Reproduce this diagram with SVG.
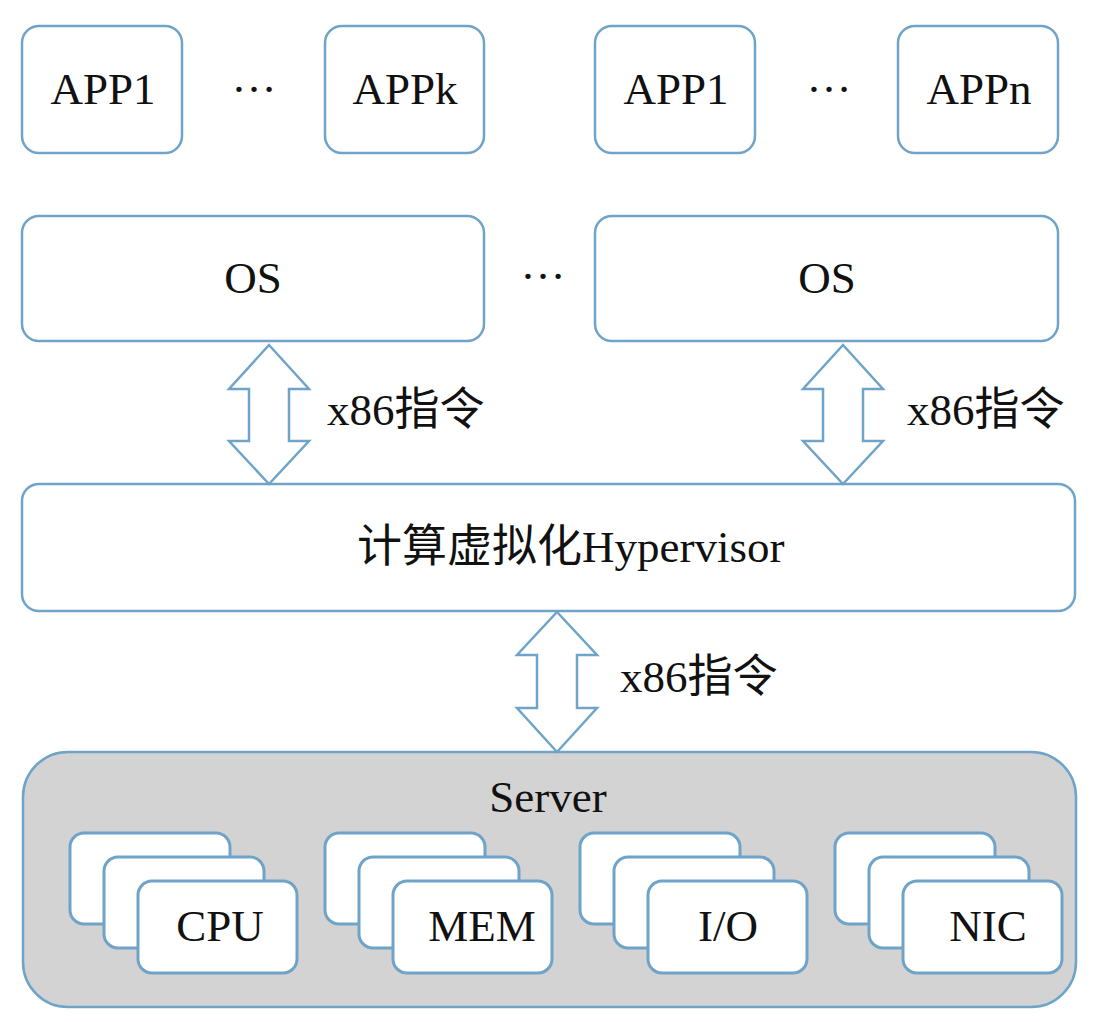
<svg xmlns="http://www.w3.org/2000/svg" width="1118" height="1022" viewBox="0 0 1118 1022">
<style>
.box{fill:#ffffff;stroke:#6fa4c8;stroke-width:2.5}
.card{fill:#ffffff;stroke:#6fa4c8;stroke-width:3}
.srv{fill:#d3d3d3;stroke:#6fa4c8;stroke-width:2.5}
.arrow{fill:#ffffff;stroke:#6fa4c8;stroke-width:2.5;stroke-linejoin:miter}
.t{font-family:"Liberation Serif","Times New Roman",Tinos,"DejaVu Serif",serif;font-size:45px;fill:#111111}
.cjk{font-family:"Noto Sans CJK SC","Noto Sans CJK JP",sans-serif}
.m{text-anchor:middle}
</style>
<rect width="1118" height="1022" fill="#ffffff"/>

<g id="app1-left"><rect class="box" x="22" y="26" width="160" height="127" rx="17"/><text class="t m" x="103" y="104">APP1</text></g>
<g id="dots-left"><text class="t m" x="254" y="92">…</text></g>
<g id="appk"><rect class="box" x="325" y="26" width="159" height="127" rx="17"/><text class="t m" x="405" y="104">APPk</text></g>
<g id="app1-right"><rect class="box" x="595" y="26" width="160" height="127" rx="17"/><text class="t m" x="676" y="104">APP1</text></g>
<g id="dots-right"><text class="t m" x="829" y="92">…</text></g>
<g id="appn"><rect class="box" x="898" y="26" width="160" height="127" rx="17"/><text class="t m" x="979" y="104">APPn</text></g>

<g id="os-left"><rect class="box" x="22" y="216" width="462" height="125" rx="17"/><text class="t m" x="253" y="293">OS</text></g>
<g id="dots-os"><text class="t m" x="543" y="279">…</text></g>
<g id="os-right"><rect class="box" x="595" y="216" width="463" height="125" rx="17"/><text class="t m" x="827" y="293">OS</text></g>

<g id="hypervisor"><rect class="box" x="22" y="484" width="1053" height="127" rx="17"/><text class="t" x="357" y="562"><tspan class="cjk">计算虚拟化</tspan>Hypervisor</text></g>

<g id="server">
<rect class="srv" x="23" y="752" width="1053" height="255" rx="45"/>
<text class="t m" x="548" y="812">Server</text>
</g>
<g id="cpu">
<rect class="card" x="70" y="833" width="160" height="91" rx="14"/>
<rect class="card" x="104" y="857" width="160" height="91" rx="14"/>
<rect class="card" x="138" y="881" width="159" height="92" rx="14"/>
<text class="t m" x="220" y="941">CPU</text>
</g>
<g id="mem">
<rect class="card" x="325" y="833" width="160" height="91" rx="14"/>
<rect class="card" x="359" y="857" width="160" height="91" rx="14"/>
<rect class="card" x="393" y="881" width="159" height="92" rx="14"/>
<text class="t m" x="482" y="941">MEM</text>
</g>
<g id="io">
<rect class="card" x="580" y="833" width="160" height="91" rx="14"/>
<rect class="card" x="614" y="857" width="160" height="91" rx="14"/>
<rect class="card" x="648" y="881" width="159" height="92" rx="14"/>
<text class="t m" x="728" y="941">I/O</text>
</g>
<g id="nic">
<rect class="card" x="835" y="833" width="160" height="91" rx="14"/>
<rect class="card" x="869" y="857" width="160" height="91" rx="14"/>
<rect class="card" x="903" y="881" width="159" height="92" rx="14"/>
<text class="t m" x="988" y="941">NIC</text>
</g>

<g id="connectors">
<path class="arrow" d="M269,345 L309,389 L289,389 L289,441 L309,441 L269,484 L229,441 L249,441 L249,389 L229,389 Z"/>
<text class="t" x="327" y="425">x86<tspan class="cjk">指令</tspan></text>
<path class="arrow" d="M843,345 L883,389 L863,389 L863,441 L883,441 L843,484 L803,441 L823,441 L823,389 L803,389 Z"/>
<text class="t" x="907" y="425">x86<tspan class="cjk">指令</tspan></text>
<path class="arrow" d="M557,612 L597,655 L577,655 L577,708 L597,708 L557,752 L517,708 L537,708 L537,655 L517,655 Z"/>
<text class="t" x="620" y="692">x86<tspan class="cjk">指令</tspan></text>
</g>
</svg>
